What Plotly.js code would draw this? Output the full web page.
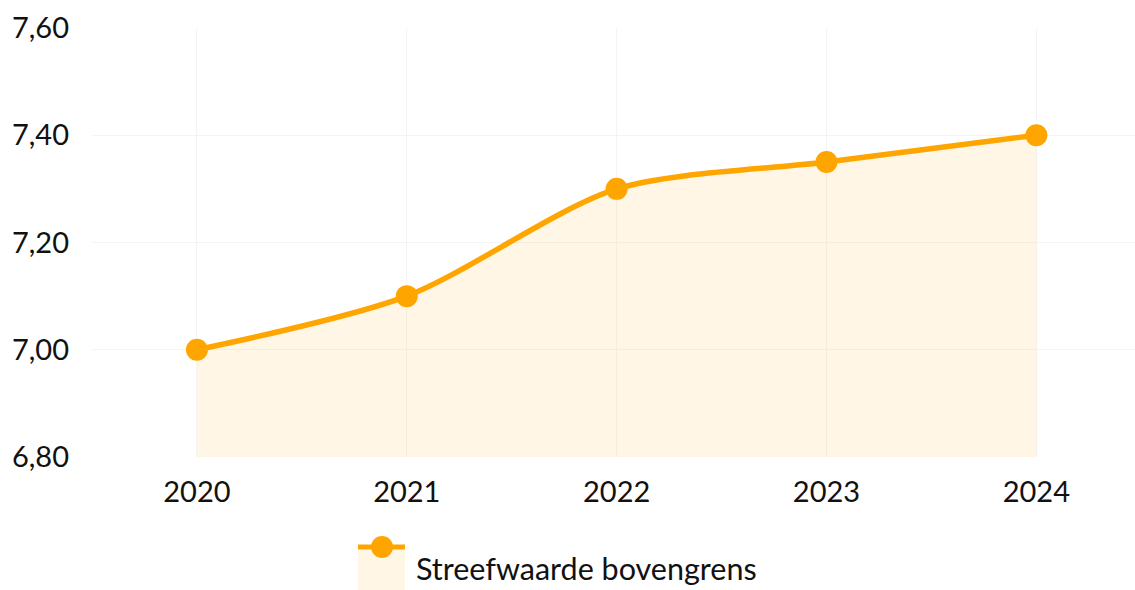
<!DOCTYPE html>
<html><head><meta charset="utf-8">
<script src="https://cdn.plot.ly/plotly-3.0.1.min.js"></script>
<style>html,body{margin:0;padding:0;background:#fff}#chart{width:1135px;height:590px}</style>
</head><body><div id="chart"></div>
<script>
const years = ['2020','2021','2022','2023','2024'];
const streefwaardeBovengrens = [7.00, 7.10, 7.30, 7.35, 7.40];
const seriesName = 'Streefwaarde bovengrens';

const orange = '#FFA500';
const cream = 'rgba(255,165,0,0.1)';

const trace = {
  x: years, y: streefwaardeBovengrens, name: seriesName,
  type: 'scatter', mode: 'lines+markers', fill: 'tozeroy',
  fillcolor: cream, showlegend: false,
  line: {color: orange, width: 5.5, shape: 'spline', smoothing: 0.8},
  marker: {color: orange, size: 22}
};

// custom legend (paper coordinates)
const W = 1043, H = 429, L = 92, B = 457;
const px = v => (v - L) / W;
const py = v => (B - v) / H;

const layout = {
  width: 1135, height: 590,
  margin: {l: 92, r: 0, t: 28, b: 133},
  separators: ',.',
  font: {family: 'Lato, sans-serif', size: 29, color: '#111'},
  paper_bgcolor: '#fff', plot_bgcolor: '#fff',
  xaxis: {type: 'category', range: [-0.5, 4.47], showgrid: true, gridcolor: '#f4f4f6',
          zeroline: false, showline: false, ticks: '', ticklabelstandoff: 15,
          tickfont: {size: 29}},
  yaxis: {range: [6.8, 7.6], dtick: 0.2, tickformat: '.2f', showgrid: true,
          gridcolor: '#f4f4f6', zeroline: false, showline: false, ticks: '',
          ticklabelstandoff: 22, tickfont: {size: 29}},
  showlegend: false,
  shapes: [
    {type: 'rect', xref: 'paper', yref: 'paper', x0: px(358), x1: px(405), y0: py(590), y1: py(546),
     fillcolor: cream, line: {width: 0}, layer: 'above'},
    {type: 'line', xref: 'paper', yref: 'paper', x0: px(358), x1: px(405), y0: py(547), y1: py(547),
     line: {color: orange, width: 5}, layer: 'above'},
    {type: 'circle', xref: 'paper', yref: 'paper', x0: px(371), x1: px(393), y0: py(536), y1: py(558),
     fillcolor: orange, line: {width: 0}, layer: 'above'}
  ],
  annotations: [
    {xref: 'paper', yref: 'paper', x: px(414), y: py(568), xanchor: 'left', yanchor: 'middle',
     text: seriesName, showarrow: false, font: {size: 30.5, color: '#111'}}
  ]
};
Plotly.newPlot('chart', [trace], layout, {displayModeBar: false, staticPlot: true});
</script></body></html>
